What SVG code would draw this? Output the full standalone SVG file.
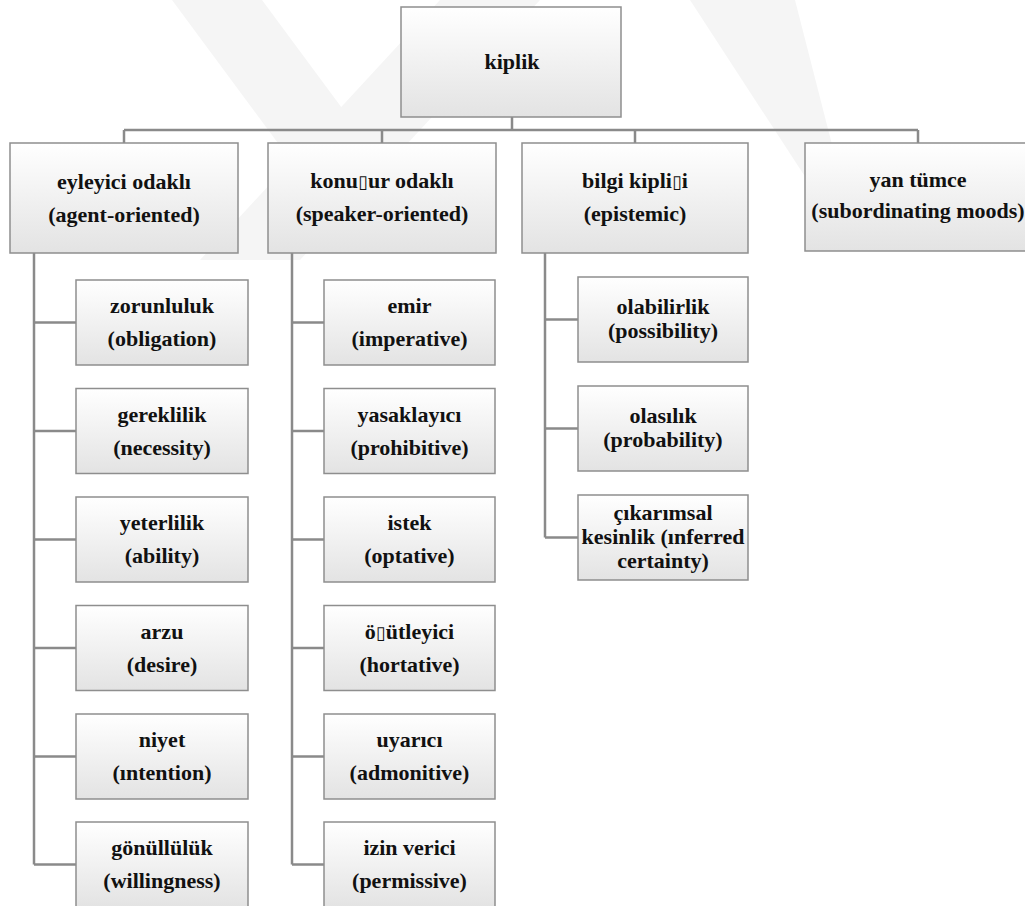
<svg xmlns="http://www.w3.org/2000/svg" width="1025" height="906" viewBox="0 0 1025 906">
<defs>
<linearGradient id="g" x1="0" y1="0" x2="0" y2="1">
<stop offset="0" stop-color="#ffffff"/>
<stop offset="1" stop-color="#e3e3e3"/>
</linearGradient>
<style>
.box{fill:url(#g);stroke:#8e8e8e;stroke-width:1.5}
.t{font-family:'Liberation Serif','Times New Roman','DejaVu Serif',serif;font-weight:700;font-size:22px;fill:#111;text-anchor:middle}
.tofu{font-family:'DejaVu Sans',sans-serif;font-weight:400;font-size:18px}
.c{fill:none;stroke:#8a8a8a;stroke-width:2.5}
.wm{fill:#f5f5f5}
</style>
</defs>
<rect width="1025" height="906" fill="#ffffff"/>
<g id="watermark">
<polygon class="wm" points="172,0 262,0 410,200 320,200"/>
<polygon class="wm" points="440,0 540,0 300,260 200,260"/>
<polygon class="wm" points="690,0 795,0 850,215 830,215"/>
</g>
<g id="connectors">
<path class="c" d="M512,117 V130 M124,130 H918 M124,130 V143 M382,130 V143 M635,130 V143 M918,130 V143"/>
<path class="c" d="M34,253 V864.5 M34,322.5 H76 M34,431 H76 M34,539.5 H76 M34,648 H76 M34,756.5 H76 M34,864.5 H76"/>
<path class="c" d="M292,253 V864.5 M292,322.5 H324 M292,431 H324 M292,539.5 H324 M292,648 H324 M292,756.5 H324 M292,864.5 H324"/>
<path class="c" d="M545,253 V537.5 M545,319.5 H578 M545,428.5 H578 M545,537.5 H578"/>
</g>
<g id="kiplik"><rect class="box" x="401" y="7" width="220" height="110"/><text class="t" font-family="Liberation Serif, DejaVu Serif, serif" x="512" y="69">kiplik</text></g>
<g id="eyleyici"><rect class="box" x="10" y="143" width="228" height="110"/><text class="t" x="124" y="189">eyleyici odaklı</text><text class="t" x="124" y="222">(agent-oriented)</text></g>
<g id="konusur"><rect class="box" x="268" y="143" width="228" height="110"/><text class="t" x="382" y="188">konu<tspan class="tofu">▯</tspan>ur odaklı</text><text class="t" x="382" y="221">(speaker-oriented)</text></g>
<g id="bilgi"><rect class="box" x="522" y="143" width="226" height="110"/><text class="t" x="635" y="188">bilgi kipli<tspan class="tofu">▯</tspan>i</text><text class="t" x="635" y="221">(epistemic)</text></g>
<g id="yan"><rect class="box" x="805" y="143" width="226" height="108"/><text class="t" x="918" y="187">yan tümce</text><text class="t" x="918" y="218">(subordinating moods)</text></g>
<g id="zorunluluk"><rect class="box" x="76" y="280" width="172" height="85"/><text class="t" x="162" y="313">zorunluluk</text><text class="t" x="162" y="346">(obligation)</text></g>
<g id="gereklilik"><rect class="box" x="76" y="388.5" width="172" height="85"/><text class="t" x="162" y="421.5">gereklilik</text><text class="t" x="162" y="454.5">(necessity)</text></g>
<g id="yeterlilik"><rect class="box" x="76" y="497" width="172" height="85"/><text class="t" x="162" y="530">yeterlilik</text><text class="t" x="162" y="563">(ability)</text></g>
<g id="arzu"><rect class="box" x="76" y="605.5" width="172" height="85"/><text class="t" x="162" y="638.5">arzu</text><text class="t" x="162" y="671.5">(desire)</text></g>
<g id="niyet"><rect class="box" x="76" y="714" width="172" height="85"/><text class="t" x="162" y="747">niyet</text><text class="t" x="162" y="780">(ıntention)</text></g>
<g id="gonulluluk"><rect class="box" x="76" y="822" width="172" height="85"/><text class="t" x="162" y="855">gönüllülük</text><text class="t" x="162" y="888">(willingness)</text></g>
<g id="emir"><rect class="box" x="324" y="280" width="171" height="85"/><text class="t" x="409.5" y="313">emir</text><text class="t" x="409.5" y="346">(imperative)</text></g>
<g id="yasaklayici"><rect class="box" x="324" y="388.5" width="171" height="85"/><text class="t" x="409.5" y="421.5">yasaklayıcı</text><text class="t" x="409.5" y="454.5">(prohibitive)</text></g>
<g id="istek"><rect class="box" x="324" y="497" width="171" height="85"/><text class="t" x="409.5" y="530">istek</text><text class="t" x="409.5" y="563">(optative)</text></g>
<g id="ogutleyici"><rect class="box" x="324" y="605.5" width="171" height="85"/><text class="t" x="409.5" y="638.5">ö<tspan class="tofu">▯</tspan>ütleyici</text><text class="t" x="409.5" y="671.5">(hortative)</text></g>
<g id="uyarici"><rect class="box" x="324" y="714" width="171" height="85"/><text class="t" x="409.5" y="747">uyarıcı</text><text class="t" x="409.5" y="780">(admonitive)</text></g>
<g id="izinverici"><rect class="box" x="324" y="822" width="171" height="85"/><text class="t" x="409.5" y="855">izin verici</text><text class="t" x="409.5" y="888">(permissive)</text></g>
<g id="olabilirlik"><rect class="box" x="578" y="277" width="170" height="85"/><text class="t" x="663" y="314">olabilirlik</text><text class="t" x="663" y="338">(possibility)</text></g>
<g id="olasilik"><rect class="box" x="578" y="386" width="170" height="85"/><text class="t" x="663" y="423">olasılık</text><text class="t" x="663" y="447">(probability)</text></g>
<g id="cikarimsal"><rect class="box" x="578" y="495" width="170" height="85"/><text class="t" x="663" y="520">çıkarımsal</text><text class="t" x="663" y="544">kesinlik (ınferred</text><text class="t" x="663" y="568">certainty)</text></g>
</svg>
